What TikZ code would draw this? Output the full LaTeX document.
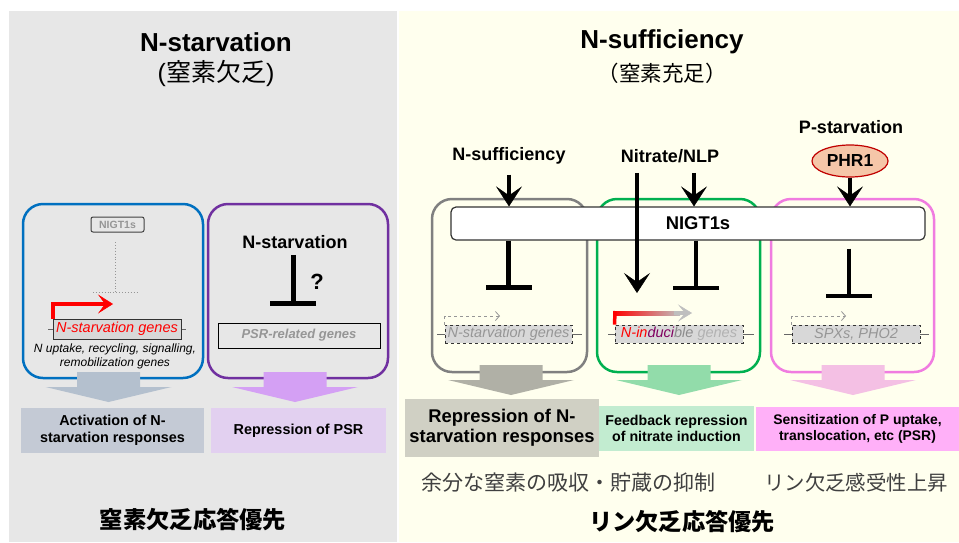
\documentclass[tikz,border=0pt]{standalone}
\usepackage{fontspec}
\setmainfont{Liberation Sans}
\newfontfamily\jp{Noto Sans CJK JP}
\usetikzlibrary{arrows.meta,shapes.geometric,positioning,calc}
\definecolor{panelgrey}{RGB}{231,231,231}
\definecolor{panelyellow}{RGB}{255,255,238}
\definecolor{boxblue}{RGB}{0,112,192}
\definecolor{boxpurple}{RGB}{112,48,160}
\definecolor{boxgrey}{RGB}{128,128,128}
\definecolor{boxgreen}{RGB}{0,176,80}
\definecolor{boxpink}{RGB}{240,124,224}
\definecolor{arrblue}{RGB}{180,192,206}
\definecolor{arrpurple}{RGB}{212,160,244}
\definecolor{arrgrey}{RGB}{176,176,166}
\definecolor{arrgreen}{RGB}{146,220,170}
\definecolor{arrpink}{RGB}{244,192,228}
\definecolor{resblue}{RGB}{196,202,213}
\definecolor{respurple}{RGB}{226,208,240}
\definecolor{resgrey}{RGB}{208,208,196}
\definecolor{resgreen}{RGB}{194,236,208}
\definecolor{respink}{RGB}{255,176,248}
\definecolor{phrfill}{RGB}{245,198,168}
\definecolor{phrline}{RGB}{192,0,0}
\definecolor{genegrey}{RGB}{216,216,216}
\definecolor{textgrey}{RGB}{150,150,150}
\definecolor{ducicolor}{RGB}{128,0,96}
\newcommand{\fsz}[2]{\fontsize{#1}{#2}\selectfont}

\begin{document}
\begin{tikzpicture}[x=1pt,y=-1pt,
  label/.style={inner sep=0pt,font=\bfseries\fsz{18}{20}},
  region/.style={draw,rounded corners=20pt,line width=2.5pt,inner sep=0pt},
  genebox/.style={draw=black!80,fill=genegrey,line width=0.9pt,inner sep=0pt,
                  minimum height=18pt,font=\itshape\fsz{14.5}{16},text=textgrey},
  dashgene/.style={genebox,dashed},
  geneline/.style={black!60,line width=0.9pt},
  result/.style={inner sep=0pt,align=center,font=\bfseries\fsz{14.4}{17}},
  pushes/.style={line width=4.5pt,-{Stealth[length=20pt,width=26pt,inset=9pt,line width=0.5pt]}},
  blocks/.style={line width=4.5pt,-{Bar[width=46pt]}},
  dotline/.style={textgrey,line width=0.9pt,dotted},
  startarrow/.style={textgrey,line width=0.8pt,dashed,-{Straight Barb[length=4pt,width=9pt]}}]
  \useasboundingbox (0,0) rectangle (959,542);
  \fill[white] (0,0) rectangle (959,542);
  \fill[panelgrey] (9,11) rectangle (397,542);
  \fill[panelyellow] (399,11) rectangle (959,542);

  % titles
  \node[inner sep=0pt,font=\bfseries\fsz{26}{30}] (titleL) at (216,42) {N-starvation};
  \node[inner sep=0pt,font=\fsz{25}{28}] (subL) at (216,73) {({\jp 窒素欠乏})};
  \node[inner sep=0pt,font=\bfseries\fsz{26}{30}] (titleR) at (662,42) {N-sufficiency};
  \node[inner sep=0pt,font=\jp\fsz{21.5}{24}] (subR) at (662,73) {（窒素充足）};

  % ---- N-starvation side
  \node[region,draw=boxblue,minimum width=180pt,minimum height=174pt] (nstbox) at (113,291) {};
  \node[region,draw=boxpurple,minimum width=180pt,minimum height=174pt] (psrbox) at (298,291) {};
  \node[draw=black!75,rounded corners=2pt,line width=1pt,minimum width=53pt,minimum height=15pt,
        inner sep=0pt,text=textgrey,font=\bfseries\fsz{10.5}{12}] (nigtL) at (117.5,224.5) {NIGT1s};
  \draw[dotline] (115,242) -- (115,292);
  \draw[dotline] (93,292) -- (139,292);
  \draw[geneline] (48,329) -- (186,329);
  \node[genebox,minimum width=128pt,minimum height=20pt,text=red] (nstgeneL) at (117,329) {N-starvation genes};
  \coordinate (redtip) at (113,304);
  \draw[red,line width=4pt,-{Stealth[length=15pt,width=19pt,inset=7pt,line width=0.5pt]}] (nstgeneL.north west) |- (redtip);
  \node[inner sep=0pt,align=center,font=\itshape\fsz{12}{14}] (uptake) at (115,356)
    {N uptake, recycling, signalling,\\remobilization genes};
  \node[label] (nstlabel) at (295,242) {N-starvation};
  \node[draw,line width=1pt,inner sep=0pt,minimum width=162pt,minimum height=25pt,
        text=textgrey,font=\bfseries\itshape\fsz{13}{15}] (psrgene) at (299,335.5) {PSR-related genes};
  \coordinate (tbarL) at (293,306);
  \draw[line width=5pt,-{Bar[width=46pt]}] ([yshift=-6pt]nstlabel.south -| tbarL) -- (tbarL);
  \node[inner sep=0pt,font=\bfseries\fsz{22}{24}] (qmark) at (317,282) {?};

  % ---- N-sufficiency side
  \node[region,draw=boxgrey,minimum width=155pt,minimum height=173pt] (suffbox) at (509.5,285.5) {};
  \node[region,draw=boxgreen,minimum width=163pt,minimum height=173pt] (nitbox) at (678.5,285.5) {};
  \node[region,draw=boxpink,minimum width=163pt,minimum height=173pt] (pstbox) at (852.5,285.5) {};
  \node[draw=black!80,fill=white,rounded corners=5pt,line width=1.2pt,minimum width=474pt,
        minimum height=33pt,inner sep=0pt,font=\bfseries\fsz{18.4}{20}] (nigt) at (688,223.5) {\hspace{20pt}NIGT1s};

  \node[label] (nsuff) at (509,156) {N-sufficiency};
  \node[label] (nitrate) at (670,156) {Nitrate/NLP};
  \node[label] (pstarv) at (851,127) {P-starvation};
  \node[ellipse,draw=phrline,fill=phrfill,line width=1.2pt,minimum width=76pt,minimum height=32pt,
        inner sep=0pt,font=\bfseries\fsz{17.4}{19}] (phr) at (850,161) {PHR1};

  \coordinate (nlpend) at (637,293);
  \draw[pushes] ([yshift=-10pt]nsuff.south) -- (nsuff.south |- nigt.north);
  \draw[pushes] ([yshift=-10pt]nitrate.south -| nlpend) -- (nlpend);
  \draw[pushes] ([xshift=24pt,yshift=-10pt]nitrate.south) -- ([xshift=24pt]nitrate.south |- nigt.north);
  \draw[pushes] (phr.south) -- (phr.south |- nigt.north);

  \draw[geneline] (437,334) -- (582,334);
  \draw[geneline] (608,334) -- (754,334);
  \draw[geneline] (784,334) -- (929,334);
  \node[dashgene,minimum width=127pt] (geneA) at (508.5,334) {N-starvation genes};
  \node[dashgene,minimum width=128pt] (geneB) at (679,334)
    {{\color{red}N-in}{\color{ducicolor}duci}{\color{black!45}ble} {\color{black!30}genes}};
  \node[dashgene,minimum width=128pt] (geneC) at (856,334) {SPXs, PHO2};

  \coordinate (tbarB) at (696,290);
  \coordinate (tbarC) at (849,298);
  \draw[blocks] (nigt.south -| geneA.north) -- ([yshift=35pt]geneA.north);
  \draw[blocks] (nigt.south -| tbarB) -- (tbarB);
  \draw[blocks] ([yshift=-8pt]nigt.south -| tbarC) -- (tbarC);

  \coordinate (startA) at (500,316);
  \coordinate (startC) at (846,316);
  \draw[startarrow] (geneA.north west) |- (startA);
  \draw[startarrow] (geneC.north west) |- (startC);
  \coordinate (gradtip) at (692,313);
  \shade[left color=red,middle color=black!60,right color=black!25] (613,311) rectangle (680,315);
  \draw[black!25,line width=3.5pt,-{Stealth[length=14pt,width=17pt,inset=7pt,line width=0.5pt]}] (674,313) -- (gradtip);
  \draw[red,line width=3.5pt] (geneB.north west) -- (615,311);

  % broad arrows
  \foreach \cx/\ty/\col in {108.5/372/arrblue,295/372/arrpurple,511/365/arrgrey,679/365/arrgreen,853/365/arrpink}{
    \fill[\col] (\cx,\ty) ++(-31.5,0) -- ++(0,15) -- ++(-31.5,0) -- ++(63,15)
                -- ++(63,-15) -- ++(-31.5,0) -- ++(0,-15) -- cycle;}

  % outcome boxes
  \node[result,fill=resblue,minimum width=183pt,minimum height=45pt] (actN) at (112.5,430.5)
    {Activation of N-\\starvation responses};
  \node[result,fill=respurple,minimum width=175pt,minimum height=45pt] (repPSR) at (298.5,430.5)
    {Repression of PSR};
  \node[result,fill=resgrey,minimum width=194pt,minimum height=58pt,font=\bfseries\fsz{18.4}{20}] (repN) at (502,428)
    {Repression of N-\\starvation responses};
  \node[result,fill=resgreen,minimum width=155pt,minimum height=45pt,font=\bfseries\fsz{14.2}{16}] (feedback) at (676.5,428.5)
    {Feedback repression\\of nitrate induction};
  \node[result,fill=respink,minimum width=203pt,minimum height=44pt,font=\bfseries\fsz{13.9}{16}] (sens) at (857.5,429)
    {Sensitization of P uptake,\\translocation, etc (PSR)};

  % Japanese summaries
  \node[inner sep=0pt,text=black!75,font=\jp\fsz{21}{24}] (sumA) at (568,483) {余分な窒素の吸収・貯蔵の抑制};
  \node[inner sep=0pt,text=black!75,font=\jp\fsz{20.4}{24}] (sumB) at (856,483) {リン欠乏感受性上昇};
  \node[inner sep=0pt,font=\jp\bfseries\fsz{23.3}{26}] (prioL) at (193,520) {窒素欠乏応答優先};
  \node[inner sep=0pt,font=\jp\bfseries\fsz{23.2}{26}] (prioR) at (682,522) {リン欠乏応答優先};
\end{tikzpicture}
\end{document}
